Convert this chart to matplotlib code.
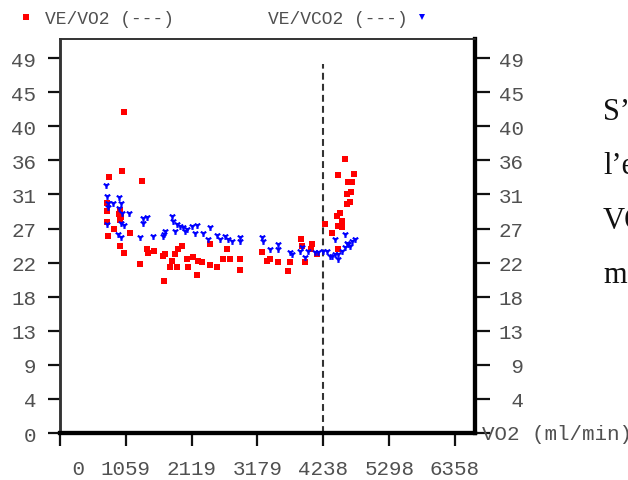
import matplotlib
matplotlib.use("Agg")
import matplotlib.pyplot as plt

# ---- data ----
ve_vo2_x = [1035, 1003, 784, 1325, 757, 961, 757, 950, 982, 761, 966, 864, 1122, 768, 961,
            1035, 1395, 1412, 1518, 1288, 1663, 1674, 1959, 1904, 2414, 1851, 1690, 1798,
            1771, 1878, 2039, 2146, 2226, 2281, 2065, 2200, 2414, 2522, 2629, 2736, 2683,
            2897, 2897, 3247, 3380, 3327, 3514, 3702, 3675, 3879, 3890, 4051, 4040, 3944,
            4132, 4265, 4383, 4587, 4470, 4737, 4640, 4705, 4615, 4684, 4615, 4673, 4507,
            4454, 4534, 4480, 4534, 4373, 4470]
ve_vo2_y = [42.0, 34.3, 33.5, 33.0, 30.1, 29.2, 29.0, 28.6, 28.2, 27.6, 27.9, 26.6, 26.1, 25.7,
            24.4, 23.5, 24.0, 23.5, 23.8, 22.1, 23.2, 19.9, 24.5, 24.1, 24.7, 23.4, 23.4, 22.5,
            21.7, 21.7, 22.7, 23.0, 22.5, 22.4, 21.7, 20.6, 21.9, 21.7, 22.7, 22.7, 24.0,
            22.8, 21.3, 23.6, 22.7, 22.5, 22.4, 22.3, 21.2, 25.3, 24.5, 24.7, 24.0, 22.3,
            23.4, 27.3, 26.1, 35.8, 33.7, 33.8, 32.8, 32.8, 31.2, 31.5, 29.9, 30.2, 28.7,
            28.4, 27.7, 27.1, 26.9, 26.2, 24.1]

ve_vco2_x = [740, 761, 955, 777, 848, 982, 777, 955, 1115, 993, 761, 982, 1025, 1341, 1395,
             1331, 938, 982, 1288, 1492, 1663, 1798, 1824, 1878, 1932, 1985, 2039, 2120,
             2200, 2012, 1851, 2173, 2307, 2414, 2522, 2575, 2656, 2709, 2764, 2897, 2897,
             1674, 1690, 2387, 3247, 3272, 3380, 3514, 3514, 3702, 3739, 3863, 3890, 3944,
             3997, 4104, 4158, 4238, 4292, 4373, 4587, 4748, 4695, 4640, 4587, 4534, 4480,
             4427, 4480, 4427, 4346, 4615, 4668]
ve_vco2_y = [32.4, 31.0, 30.9, 30.1, 30.0, 30.0, 29.5, 29.4, 28.8, 28.8, 27.3, 27.4, 27.2,
             28.1, 28.2, 27.4, 26.0, 25.6, 25.6, 25.7, 25.8, 28.4, 27.7, 27.3, 27.1, 26.9,
             26.7, 27.1, 27.2, 26.4, 26.4, 26.2, 26.2, 26.9, 25.9, 25.4, 25.8, 25.4, 25.1,
             25.6, 25.1, 26.0, 26.4, 25.4, 25.6, 25.1, 24.1, 24.7, 24.0, 23.6, 23.4, 23.8,
             24.3, 23.0, 23.8, 23.6, 23.6, 23.8, 23.8, 23.2, 26.0, 25.4, 25.1, 24.7, 24.3,
             23.8, 23.4, 23.4, 22.8, 25.4, 23.2, 24.9, 24.5]

threshold_x = 4238
threshold_top = 48.2

x_max = 6358
y_max = 49
xticks = [k * x_max / 6 for k in range(7)]
xtick_labels = ["   0", "1059", "2119", "3179", "4238", "5298", "6358"]
yticks = [k * y_max / 11 for k in range(12)]
ytick_labels = ["0", "4", "9", "13", "18", "22", "27", "31", "36", "40", "45", "49"]
ytick_labels_right = ["", " 4", " 9", "13", "18", "22", "27", "31", "36", "40", "45", "49"]

legend_left = "VE/VO2 (---)"
legend_right = "VE/VCO2 (---)"
x_label = "VO2 (ml/min)"
side_text = ["S’", "l’e", "VO", "m"]

MONO = "Liberation Mono"
TXT = "#505050"

fig = plt.figure(figsize=(6.28, 4.81), dpi=100)
ax = fig.add_axes([60 / 628, 1 - 434 / 481, 415 / 628, 394 / 481])

ax.scatter(ve_vo2_x, ve_vo2_y, marker="s", s=16, color="#ff0000", linewidths=0, zorder=3)
ax.scatter(ve_vco2_x, ve_vco2_y, marker="1", s=24, color="#0000ff", linewidths=1.6, zorder=4)
ax.plot([threshold_x, threshold_x], [0, threshold_top], color="#333333", lw=1.5,
        ls=(0, (3.3, 2.0)), zorder=2)

ax.set_xlim(0, 6680)
ax.set_ylim(0, 51.5)

ax.set_xticks(xticks)
ax.set_xticklabels(xtick_labels, family=MONO, fontsize=15, color=TXT)
ax.set_yticks(yticks)
ax.set_yticklabels(ytick_labels, family=MONO, fontsize=15, color=TXT)
ax.tick_params(axis="x", length=9, width=1.6, pad=10, colors="#111111", labelcolor=TXT)
ax.tick_params(axis="y", length=9, width=1.6, pad=8, colors="#111111", labelcolor=TXT)

ax2 = ax.twinx()
ax2.set_ylim(0, 51.5)
ax2.set_yticks(yticks)
ax2.set_yticklabels(ytick_labels_right, family=MONO, fontsize=15, color=TXT)
ax2.tick_params(axis="y", length=11, width=1.6, pad=6, colors="#111111", labelcolor=TXT)

for a in (ax, ax2):
    a.spines["top"].set_linewidth(1.2)
    a.spines["top"].set_color("#333333")
    a.spines["left"].set_linewidth(1.8)
    a.spines["left"].set_color("#333333")
    a.spines["bottom"].set_linewidth(3)
    a.spines["bottom"].set_color("#000000")
    a.spines["right"].set_linewidth(3)
    a.spines["right"].set_color("#000000")

fig.text(482 / 628, 1 - 434 / 481, x_label, family=MONO, fontsize=15, color=TXT,
         ha="left", va="center")

# legend-like header
fig.text(45 / 628, 1 - 20 / 481, legend_left, family=MONO, fontsize=13, color=TXT,
         ha="left", va="center")
fig.text(268 / 628, 1 - 20 / 481, legend_right, family=MONO, fontsize=13, color=TXT,
         ha="left", va="center")
fig.lines.append(plt.Line2D([26 / 628], [1 - 18 / 481], transform=fig.transFigure,
                            marker="s", ms=4, color="#ff0000", mew=0, ls=""))
fig.lines.append(plt.Line2D([422 / 628], [1 - 18 / 481], transform=fig.transFigure,
                            marker="v", ms=4, color="#0000ff", mew=0, ls=""))

# cropped document text on the right
for i, t in enumerate(side_text):
    fig.text(603 / 628, 1 - (120 + 54.5 * i) / 481, t, family="Liberation Serif",
             fontsize=22, color="#111111", ha="left", va="baseline")

fig.savefig("out.png", dpi=100)
